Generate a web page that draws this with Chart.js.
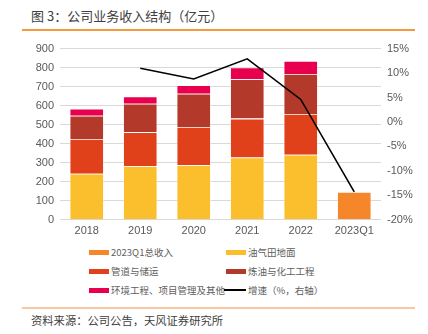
<!DOCTYPE html>
<html>
<head>
<meta charset="utf-8">
<script src="https://cdn.jsdelivr.net/npm/chart.js@4/dist/chart.umd.min.js"></script>
<style>
  html, body { margin: 0; padding: 0; background: #fff; }
  body { width: 428px; height: 334px; position: relative; overflow: hidden;
         font-family: "Liberation Sans", "Noto Sans CJK SC", sans-serif; color: #595959; }
  .title { position: absolute; left: 31px; top: 6px; font-size: 13px; color: #404040;
           font-family: "Noto Sans CJK SC", sans-serif; }
  .rule-top { position: absolute; left: 22px; top: 29px; width: 393px; height: 1.5px; background: #F59A3C; }
  .rule-bottom { position: absolute; left: 22px; top: 307px; width: 393px; height: 1.5px; background: #F8C9A0; }
  .source { position: absolute; left: 31px; top: 312px; font-size: 11.3px; color: #404040;
            font-family: "Noto Sans CJK SC", sans-serif; }
  #chart-wrap { position: absolute; left: 0; top: 36px; width: 428px; height: 207px; }
  #legend { position: absolute; left: 89px; top: 243px; width: 330px;
            font-family: "Noto Sans CJK SC", sans-serif; font-size: 9.5px; color: #606060; }
  .lg-item { position: absolute; display: flex; align-items: center; white-space: nowrap; height: 18px; }
  .lg-box { width: 20px; height: 5px; margin-right: 2px; }
  .lg-line { width: 22px; height: 2px; margin-left: -2px; margin-right: 2px; background: #000; }
</style>
</head>
<body>
<div class="title">图 3：公司业务收入结构（亿元）</div>
<div class="rule-top"></div>
<div id="chart-wrap"><canvas id="revenue-chart"></canvas></div>
<div id="legend"></div>
<div class="rule-bottom"></div>
<div class="source">资料来源：公司公告，天风证券研究所</div>

<script>
// ── Data ──────────────────────────────────────────────────────
const years       = ['2018', '2019', '2020', '2021', '2022', '2023Q1'];
const q1Total     = [null, null, null, null, null, 147];
const oilfield    = [242, 282, 287, 328, 342, null];
const pipeline    = [183, 179, 201, 204, 214, null];
const refining    = [122, 149, 175, 207, 211, null];
const envOther    = [37, 39, 45, 62, 68, null];
const growth      = [null, 11.0, 8.8, 12.9, 4.6, -14.3];
const leftTicks   = [0, 900, 100];
const rightTicks  = [-20, 15, 5];

const FONT = { family: '"Liberation Sans", "Noto Sans CJK SC", sans-serif', size: 11 };
const TEXT = '#595959';
const GRID = '#D9D9D9';

function barSet(label, data, color) {
  return {
    type: 'bar', label, data,
    backgroundColor: color,
    borderColor: 'rgba(255,255,255,0.55)',
    borderWidth: 0.8,
    yAxisID: 'y', stack: 'rev', order: 2,
  };
}

const datasets = [
  barSet('2023Q1总收入', q1Total, '#F5862A'),
  barSet('油气田地面', oilfield, '#FBBE2C'),
  barSet('管道与储运', pipeline, '#E0411B'),
  barSet('炼油与化工工程', refining, '#B33A2A'),
  barSet('环境工程、项目管理及其他', envOther, '#E8004F'),
  {
    type: 'line', label: '增速（%，右轴）', data: growth,
    borderColor: '#000', borderWidth: 1.6, pointRadius: 0, tension: 0,
    fill: false, yAxisID: 'y1', order: 1,
  },
];

new Chart(document.getElementById('revenue-chart'), {
  data: { labels: years, datasets },
  options: {
    responsive: true, maintainAspectRatio: false, animation: false,
    layout: { padding: { top: 10, left: 0, right: 0, bottom: 0 } },
    datasets: { bar: { barPercentage: 0.64, categoryPercentage: 1 } },
    plugins: { legend: { display: false }, tooltip: { enabled: false } },
    scales: {
      x: {
        stacked: true,
        grid: { display: false, drawTicks: false },
        border: { display: false },
        ticks: { color: TEXT, font: FONT, padding: 5 },
      },
      y: {
        stacked: true, position: 'left',
        min: leftTicks[0], max: leftTicks[1],
        ticks: { stepSize: leftTicks[2], color: TEXT, font: FONT, padding: 6 },
        grid: { color: GRID, lineWidth: 1, drawTicks: false },
        border: { display: false },
        afterFit: s => { s.width = 60; },
      },
      y1: {
        position: 'right',
        min: rightTicks[0], max: rightTicks[1],
        ticks: { stepSize: rightTicks[2], color: TEXT, font: FONT, padding: 6,
                 callback: v => v + '%' },
        grid: { display: false, drawTicks: false },
        border: { display: false },
        afterFit: s => { s.width = 47; },
      },
    },
  },
});

// ── Legend (two columns) ──────────────────────────────────────
const legendEl = document.getElementById('legend');
legendEl.innerHTML = datasets.map((d, i) => {
  const col = i % 2, row = Math.floor(i / 2);
  const mark = d.type === 'line'
    ? '<div class="lg-line"></div>'
    : `<div class="lg-box" style="background:${d.backgroundColor}"></div>`;
  return `<div class="lg-item" style="left:${col * 137}px;top:${row * 19}px">${mark}<span>${d.label}</span></div>`;
}).join('');
</script>
</body>
</html>
